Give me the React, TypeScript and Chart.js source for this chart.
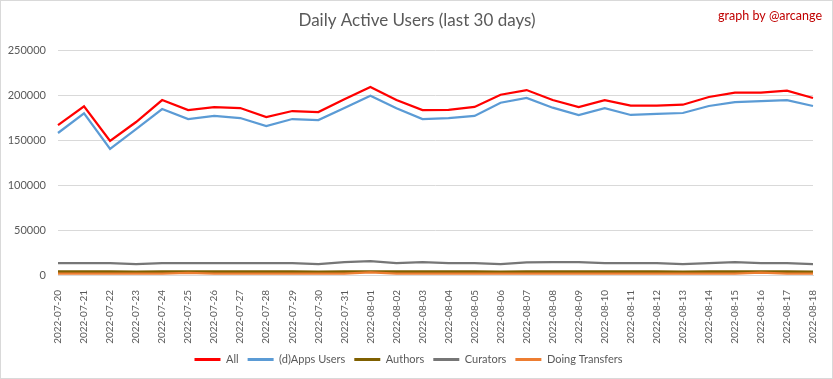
import React, { useEffect, useRef } from "react";
import { Chart, registerables } from "chart.js";

Chart.register(...registerables);

const dates = [
  "2022-07-20", "2022-07-21", "2022-07-22", "2022-07-23", "2022-07-24", "2022-07-25",
  "2022-07-26", "2022-07-27", "2022-07-28", "2022-07-29", "2022-07-30", "2022-07-31",
  "2022-08-01", "2022-08-02", "2022-08-03", "2022-08-04", "2022-08-05", "2022-08-06",
  "2022-08-07", "2022-08-08", "2022-08-09", "2022-08-10", "2022-08-11", "2022-08-12",
  "2022-08-13", "2022-08-14", "2022-08-15", "2022-08-16", "2022-08-17", "2022-08-18",
];

const allUsers = [
  166500, 187500, 149000, 170000, 194400, 183300, 186500, 185500, 175500, 182200,
  181100, 195200, 208900, 194400, 183300, 183500, 186700, 200300, 205500, 194400,
  186700, 194400, 188100, 188100, 189200, 197800, 202600, 202600, 204800, 196700,
];

const appsUsers = [
  157800, 179600, 140000, 162000, 184400, 173300, 176700, 174400, 165500, 173300,
  172200, 185500, 199200, 185200, 173300, 174400, 176700, 191400, 196700, 185900,
  177800, 185500, 177800, 178900, 180000, 187800, 192200, 193300, 194400, 187800,
];

const authors = [
  3700, 3700, 3700, 3600, 3700, 3700, 3700, 3700, 3700, 3700,
  3600, 3700, 3800, 3700, 3700, 3700, 3700, 3600, 3700, 3700,
  3700, 3700, 3700, 3700, 3600, 3700, 3700, 3700, 3700, 3600,
];

const curators = [
  13300, 13300, 13100, 12100, 13100, 13100, 13100, 13100, 13100, 13100,
  12100, 14300, 15500, 13100, 14300, 13300, 13300, 12100, 14100, 14300,
  14300, 13300, 13300, 13300, 12100, 13100, 14300, 13300, 13300, 12100,
];

const transfers = [
  1500, 1500, 1500, 1500, 1500, 2400, 1500, 1500, 1500, 1500,
  1500, 1600, 2800, 1500, 1500, 1500, 1500, 1500, 1500, 1500,
  1500, 1500, 1500, 1500, 1500, 1500, 1600, 2500, 1500, 1400,
];

const yTicks = [0, 50000, 100000, 150000, 200000, 250000];

const FONT = "Lato, 'Open Sans', sans-serif";
const TEXT = "#595959";

const overlayText = {
  id: "overlayText",
  afterDraw(chart: any) {
    const ctx = chart.ctx;
    ctx.save();
    ctx.textBaseline = "middle";
    ctx.font = `17px ${FONT}`;
    ctx.fillStyle = TEXT;
    ctx.textAlign = "center";
    ctx.fillText("Daily Active Users (last 30 days)", 416, 20);
    ctx.font = `12.5px ${FONT}`;
    ctx.fillStyle = "#c00000";
    ctx.textAlign = "right";
    ctx.fillText("graph by @arcange", 821, 15);
    ctx.restore();
  },
};

export default function App() {
  const ref = useRef<HTMLCanvasElement | null>(null);

  useEffect(() => {
    if (!ref.current) return;
    const mk = (label: string, data: number[], color: string, order: number, width = 2.25) => ({
      label,
      data,
      borderColor: color,
      backgroundColor: color,
      borderWidth: width,
      pointRadius: 0,
      tension: 0,
      fill: false,
      order,
    });
    const chart = new Chart(ref.current, {
      type: "line",
      data: {
        labels: dates,
        datasets: [
          mk("All", allUsers, "#ff0000", 5),
          mk("(d)Apps Users", appsUsers, "#5b9bd5", 4),
          mk("Authors", authors, "#7f6000", 3, 2.75),
          mk("Curators", curators, "#767676", 2),
          mk("Doing Transfers", transfers, "#ed7d31", 1),
        ],
      },
      options: {
        animation: false,
        responsive: false,
        maintainAspectRatio: false,
        layout: { padding: { left: 0, right: 16, top: 49, bottom: 3 } },
        plugins: {
          title: { display: false },
          legend: {
            position: "bottom",
            labels: {
              boxWidth: 26,
              boxHeight: 3,
              padding: 9,
              color: TEXT,
              font: { family: FONT, size: 11 },
              sort: (a: any, b: any) => a.datasetIndex - b.datasetIndex,
              generateLabels: (c: any) =>
                Chart.defaults.plugins.legend.labels
                  .generateLabels(c)
                  .map((it: any) => ({ ...it, lineWidth: 0, fillStyle: it.strokeStyle })),
            },
          },
          tooltip: { enabled: false },
        },
        scales: {
          x: {
            grid: { display: false },
            border: { display: true, color: "#d9d9d9" },
            ticks: {
              minRotation: 90,
              maxRotation: 90,
              autoSkip: false,
              padding: 7,
              color: TEXT,
              font: { family: FONT, size: 10 },
            },
            afterFit: (s: any) => {
              s.height = 70;
            },
          },
          y: {
            min: 0,
            max: 250000,
            afterBuildTicks: (s: any) => {
              s.ticks = yTicks.map((v) => ({ value: v }));
            },
            grid: { color: "#d9d9d9", drawTicks: false },
            border: { display: false },
            ticks: {
              padding: 12,
              color: TEXT,
              font: { family: FONT, size: 11 },
              callback: (v: any) => String(v),
            },
            afterFit: (s: any) => {
              s.width = 57;
            },
          },
        },
      },
      plugins: [overlayText],
    });
    return () => chart.destroy();
  }, []);

  return (
    <div
      style={{
        position: "fixed",
        left: 0,
        top: 0,
        width: 833,
        height: 379,
        background: "#fff",
        border: "1px solid #d9d9d9",
        boxSizing: "border-box",
      }}
    >
      <canvas ref={ref} width={831} height={377} style={{ display: "block" }} />
    </div>
  );
}
